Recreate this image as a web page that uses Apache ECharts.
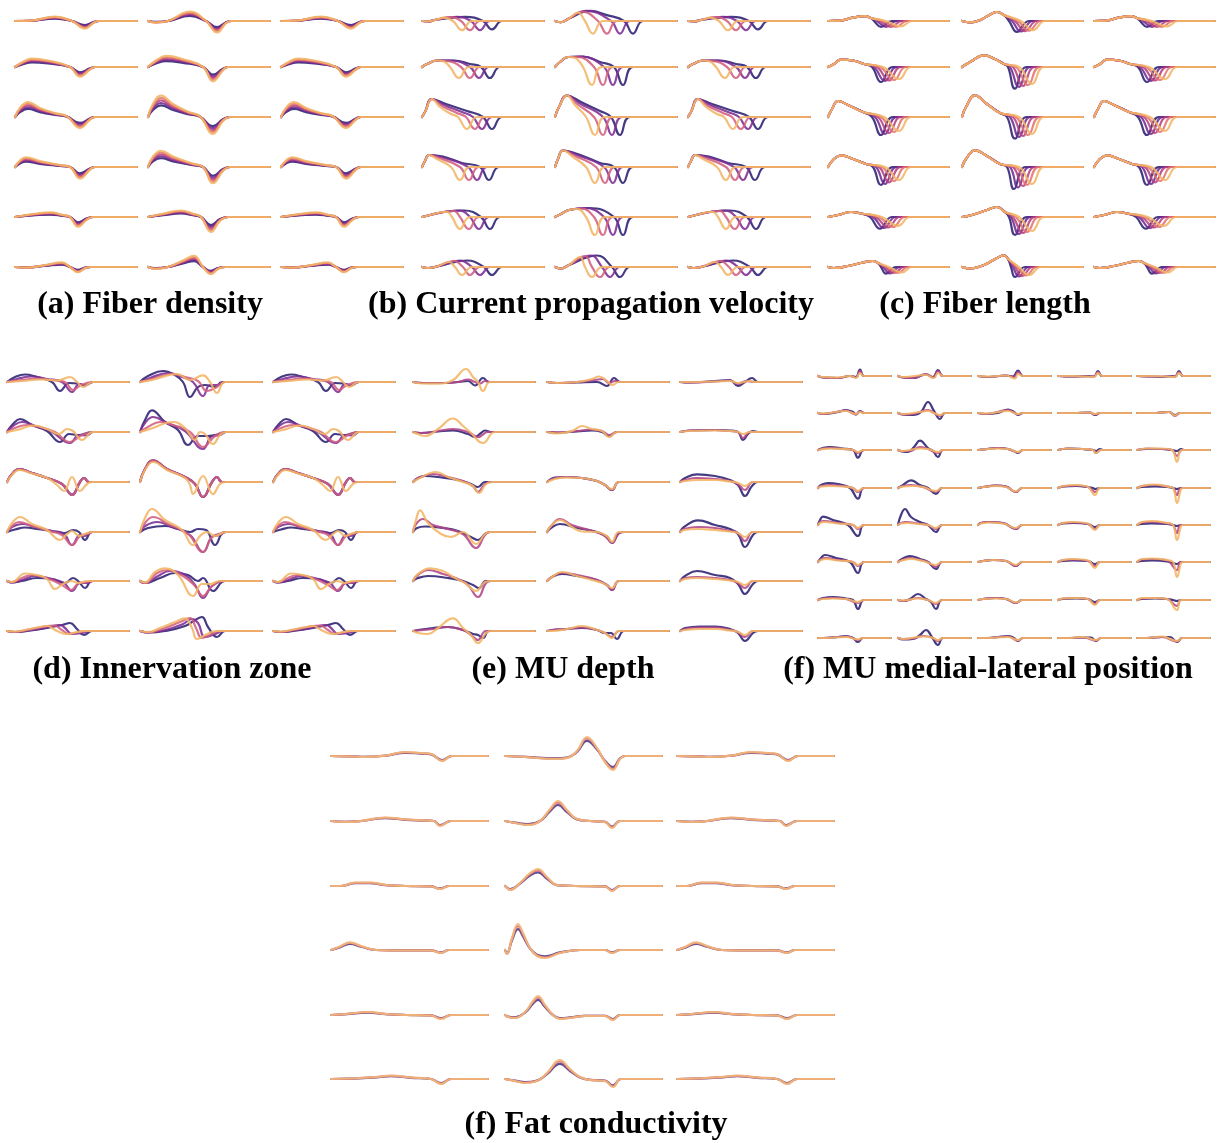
<!DOCTYPE html>
<html>
<head>
<meta charset="utf-8">
<script src="https://cdn.jsdelivr.net/npm/echarts/dist/echarts.min.js"></script>
<style>
html,body{margin:0;padding:0;background:#fff}
#chart{width:1221px;height:1143px}
</style>
</head>
<body>
<div id="chart"></div>
<script>
// Each waveform is a list of keypoints [t, amplitude, t, amplitude, ...];
// every trace starts and ends at rest (0). Outer columns share one trace set.

// (a) Fiber density: one shape per cell, scaled by density level
const densitySide = [
  [15,0.3, 40,4, 57,0, 70,-7, 79,-1.5, 84,0],
  [8,4, 17,6.5, 33,5, 55,0, 65,-7.5, 75,-2, 80,0],
  [5,7, 13,11.5, 25,7, 40,3, 52,0.5, 65,-8.5, 75,-2, 80,0],
  [5,5, 11,7.5, 25,4.5, 45,1.5, 55,0, 65,-9, 75,-2, 80,0],
  [20,2.5, 35,3.5, 48,1.5, 55,0, 63,-7.5, 72,-2, 78,0],
  [12,-0.5, 30,1.5, 47,3.5, 55,0, 63,-4, 70,-1, 76,0]
];
const densityMid = [
  [8,-1.5, 20,0, 42,8.5, 58,0, 69,-10.5, 78,-2, 83,0],
  [8,5, 18,8.5, 35,6, 55,0, 65,-11, 75,-2.5, 80,0],
  [5,10, 13,16.5, 25,10, 40,4, 52,0.5, 65,-13, 75,-3, 82,0],
  [5,8, 13,12.5, 25,8, 45,2.5, 55,0, 65,-12.5, 75,-3, 82,0],
  [15,2.5, 33,5, 45,2.5, 53,0, 63,-11.5, 72,-3, 80,0],
  [7,-1.5, 20,0, 35,5, 46,8.5, 55,0, 63,-5.5, 70,-1.5, 77,0]
];
const densityGain = [0.7, 0.85, 1, 1.15, 1.3];

// (b) Current propagation velocity: shared onset + one tail per velocity
const velocitySide = [
  [[6,-0.5, 14,1.5], [[43,5, 61,0, 70,-10, 80,0],[35,5, 49,0, 58,-11, 68,0],[28,4.5, 39,0, 48,-11, 58,0],[22,4, 31,0, 40,-11, 50,0]]],
  [[5,3, 15,6.5], [[32,6.5, 48,3, 59,0, 68,-11, 78,0],[28,6.5, 48,0, 57,-11, 67,0],[25,6, 39,0, 48,-11, 58,0],[22,5.5, 28,0, 37,-11, 47,0]]],
  [[3,5, 10,18], [[24,13, 45,6, 61,0, 70,-12, 80,0],[22,12, 40,5, 51,0, 60,-12, 70,0],[20,11, 35,4, 44,0, 53,-12, 63,0],[18,10, 29,3, 36,0, 45,-12, 55,0]]],
  [[3,6, 7,12], [[21,10.5, 40,4, 58,0, 67,-13, 77,0],[19,10, 46,0, 55,-13, 65,0],[17,9, 38,0, 47,-13, 57,0],[15,8, 29,0, 38,-13, 48,0]]],
  [[10,2.5, 22,5], [[42,6.5, 59,0, 68,-12, 78,0],[37,6.5, 48,0, 57,-12, 67,0],[32,6, 38,0, 47,-12, 57,0],[25,5, 30,0, 38,-12, 48,0]]],
  [[6,-1, 15,0.5], [[45,6.5, 62,0, 70,-8, 80,0],[38,6.5, 50,0, 58,-8, 68,0],[32,6, 41,0, 48,-8, 58,0],[27,5, 33,0, 40,-8, 50,0]]]
];
const velocityMid = [
  [[6,-1.5, 14,3], [[35,12, 52,7, 69,0, 78,-15, 88,0],[31,12, 56,0, 65,-15, 75,0],[27,11, 43,0, 52,-15, 62,0],[23,10, 30,0, 38,-15, 48,0]]],
  [[5,5, 13,10], [[28,10.5, 45,5, 59,0, 68,-18, 78,0],[25,10.5, 49,0, 58,-18, 68,0],[22,10, 39,0, 48,-18, 58,0],[20,9, 28,0, 37,-18, 47,0]]],
  [[4,10, 12,21.5], [[26,15, 45,6, 56,0, 65,-18, 75,0],[24,14, 48,0, 57,-18, 67,0],[22,13, 39,0, 48,-18, 58,0],[20,12, 31,0, 40,-18, 50,0]]],
  [[3,8, 8,16.5], [[24,12.5, 45,4, 59,0, 68,-16, 78,0],[22,12, 49,0, 58,-16, 68,0],[20,11, 41,0, 50,-16, 60,0],[18,10, 31,0, 40,-16, 50,0]]],
  [[6,3, 14,7], [[34,9, 59,0, 68,-18, 78,0],[30,9, 49,0, 58,-18, 68,0],[26,8.5, 39,0, 48,-18, 58,0],[22,8, 31,0, 40,-18, 50,0]]],
  [[6,-1.5, 14,2], [[42,11.5, 57,0, 65,-10, 75,0],[36,11.5, 47,0, 55,-10, 65,0],[30,11, 37,0, 45,-10, 55,0],[25,10, 30,0, 37,-10, 47,0]]]
];

// (c) Fiber length: shared hump + one terminal phase per length
const lengthSide = [
  [[12,0.5, 25,4, 37,5.7, 43,3.5], [[46,0, 53,-7, 64,0],[49,0, 58,-7, 69,0],[52,0, 63,-7, 74,0],[55,0, 68,-7, 79,0],[58,0, 73,-6.5, 84,0]]],
  [[6,3, 13,7.3, 25,6.5, 36,3], [[44,0, 53,-15, 65,0],[46,0, 57,-14, 69,0],[49,0, 61,-13.5, 73,0],[52,0, 66,-13, 78,0],[55,0, 71,-12, 83,0]]],
  [[4,8, 10,16, 20,12, 35,5], [[44,0, 53,-18, 65,0],[47,0, 57,-17, 69,0],[50,0, 61,-16, 73,0],[53,0, 66,-15, 78,0],[56,0, 71,-14, 83,0]]],
  [[5,7, 13,11.7, 25,8, 38,3], [[45,0, 53,-18, 65,0],[48,0, 57,-17, 69,0],[51,0, 61,-15.5, 73,0],[54,0, 66,-14, 78,0],[57,0, 71,-13, 83,0]]],
  [[10,2, 23,5, 33,3.5], [[42,0, 52,-11.7, 64,0],[45,0, 56,-11, 68,0],[48,0, 60,-10.5, 72,0],[51,0, 65,-10, 77,0],[54,0, 70,-9, 82,0]]],
  [[6,-1, 20,1, 35,4.5, 45,6, 50,4], [[53,0, 58,-6.7, 68,0],[55,0, 62,-6.5, 72,0],[57,0, 66,-6, 76,0],[59,0, 70,-6, 80,0],[61,0, 74,-5.5, 84,0]]]
];
const lengthMid = [
  [[8,-1.7, 18,1, 30,9, 35,10.7, 42,7], [[47,0, 55,-13, 67,0],[50,0, 59,-12.5, 71,0],[53,0, 63,-12, 75,0],[56,0, 67,-11.5, 79,0],[59,0, 71,-11, 83,0]]],
  [[8,5, 22,11.7, 33,8, 42,3], [[46,0, 53,-21.7, 65,0],[48,0, 57,-20, 69,0],[51,0, 61,-19, 73,0],[54,0, 66,-18, 78,0],[57,0, 70,-17, 82,0]]],
  [[4,10, 13,21.7, 25,13, 38,4], [[45,0, 53,-21.7, 65,0],[48,0, 57,-20, 69,0],[51,0, 61,-19, 73,0],[54,0, 66,-18, 78,0],[57,0, 70,-17, 82,0]]],
  [[4,8, 13,16.7, 25,11, 38,3], [[45,0, 52,-22, 64,0],[48,0, 56,-20.5, 68,0],[51,0, 61,-19, 73,0],[54,0, 65,-18, 77,0],[57,0, 70,-17, 82,0]]],
  [[10,2, 25,7, 35,10, 43,5], [[47,0, 53,-18, 65,0],[49,0, 57,-17, 69,0],[51,0, 61,-16, 73,0],[54,0, 65,-15, 77,0],[57,0, 70,-14, 82,0]]],
  [[8,-1.5, 22,2, 35,9, 42,11.7, 46,8], [[49,0, 53,-10, 63,0],[51,0, 57,-9.5, 67,0],[53,0, 60,-9, 71,0],[55,0, 64,-8.5, 75,0],[57,0, 67,-8, 79,0]]]
];

// (d) Innervation zone: four zone positions per cell
const zoneSide = [
  [[8,5, 18,7.5, 30,5, 45,0, 53,-9, 62,-1, 70,-1.5, 78,-3.5, 86,0],
   [10,3, 25,5.5, 40,3, 55,0, 65,-10, 72,-2, 78,-3, 86,0],
   [15,2, 30,3.5, 45,2, 58,0, 66,-8, 74,-3, 86,0],
   [15,1, 35,2.5, 50,1.5, 63,5, 70,0, 76,-5, 86,0]],
  [[6,8, 13,13, 25,7, 40,1, 53,-10, 62,-2, 72,-3, 80,-1, 86,0],
   [6,6, 15,10, 28,6, 45,0, 63,-11, 72,-3, 80,-3.5, 86,0],
   [8,4, 20,7, 33,5, 48,0, 63,-10, 75,-3, 86,0],
   [10,2, 27,6.5, 40,3, 52,-2, 60,3, 66,1, 75,-8, 86,0]],
  [[5,8, 12,13, 25,9, 40,4, 55,-2, 65,-13, 73,0, 77,4, 82,0],
   [5,8, 12,13, 25,9, 40,4, 55,-2, 65,-12.5, 73,0, 77,4, 82,0],
   [5,8, 12,13, 25,9, 40,4, 55,-2, 65,-13, 73,0, 77,4, 82,0],
   [5,7, 12,12, 25,8.5, 40,4, 50,-3, 57,-9, 65,5, 73,-9, 80,-2, 85,0]],
  [[8,2.5, 18,4.5, 30,3, 45,1, 58,-1, 66,2, 72,0, 78,-8, 85,0],
   [5,5, 15,8, 28,5, 45,1, 57,-2, 65,-13, 73,-3, 78,-4, 85,0],
   [5,6, 12,10, 25,6, 42,1, 55,-3, 65,-13, 73,-4, 80,-2, 86,0],
   [5,9, 13,15, 25,8, 40,2, 53,-8, 60,-2, 65,1, 72,-4, 80,-1, 86,0]],
  [[5,-1.5, 15,0, 30,3, 45,2, 58,-2, 66,3, 72,-1, 78,-7, 85,0],
   [5,-1.5, 15,1, 28,5, 45,2, 57,-2, 65,-10, 73,-2, 80,-2, 86,0],
   [5,-1, 15,3, 25,6, 42,2, 55,-4, 64,-9, 72,-2, 80,-1, 86,0],
   [5,-1, 18,7.5, 30,6, 40,2, 48,-8, 56,-3, 64,0, 72,-2, 80,0]],
  [[8,-1, 20,0, 40,3, 55,6, 63,8, 70,2, 77,-4, 85,0],
   [8,-1, 20,0.5, 38,3, 53,6, 58,3, 65,-3, 75,-2, 83,0],
   [8,-1, 20,1, 35,4, 47,5.5, 55,1, 62,-3, 72,-1, 80,0],
   [8,-0.5, 20,1.5, 33,4, 40,5, 50,0, 60,-3, 70,-1, 78,0]]
];
const zoneMid = [
  [[8,6, 23,11, 35,7, 43,0, 50,-15, 58,-5, 65,-3, 75,-5, 82,0],
   [10,4, 28,9, 42,5, 53,0, 63,-14, 70,-3, 78,-3, 85,0],
   [12,3, 32,8, 45,5, 58,1, 67,-9, 75,-6, 85,0],
   [12,2, 37,8, 50,2, 63,6.7, 70,0, 77,-11, 85,0]],
  [[5,12, 12,21.7, 25,10, 38,2, 48,-13, 58,-4, 68,-4, 80,-2, 86,0],
   [5,9, 13,15, 27,9, 45,1, 63,-17, 72,-4, 80,-3, 86,0],
   [8,5, 20,10, 33,7, 50,0, 63,-15, 75,-4, 86,0],
   [10,3, 33,10, 45,4, 55,-8, 60,0, 65,-2, 73,-12, 80,-3, 86,0]],
  [[5,13, 13,21.7, 27,13, 45,5, 55,-2, 63,-15, 72,0, 77,5, 82,0],
   [5,13, 13,21.5, 27,13, 45,5, 55,-2, 63,-15, 72,0, 77,5, 82,0],
   [5,13, 13,21.7, 27,13, 45,5, 55,-2, 63,-15, 72,0, 77,5, 82,0],
   [5,12, 13,20, 27,12, 45,4, 50,-3, 53,-12, 63,6, 73,-12, 80,-2, 86,0]],
  [[8,4, 25,6, 38,3, 50,0, 58,3, 66,2, 75,-13, 85,0],
   [5,6, 17,10, 30,6, 50,-3, 63,-20, 72,-5, 80,-3, 86,0],
   [5,9, 13,15, 28,8, 48,-2, 63,-20, 72,-5, 82,-1, 86,0],
   [5,14, 12,23, 25,12, 42,2, 53,-13, 60,-4, 67,0, 75,-4, 86,0]],
  [[5,-2, 20,3, 35,8, 48,6, 58,0, 63,3, 73,-10, 85,0],
   [5,-2, 18,5, 30,10, 45,6, 55,-4, 63,-17, 72,-5, 85,0],
   [5,-2, 17,8, 28,11, 43,5, 55,-5, 63,-15, 72,-5, 85,0],
   [5,-1.5, 15,9, 25,12.7, 38,6, 53,-15, 62,-3, 70,-3, 80,0]],
  [[8,-1.5, 25,0, 45,5, 55,11, 62,14, 68,4, 77,-6, 85,0],
   [8,-1.5, 25,1, 43,7, 52,12, 58,8, 65,-6, 75,-3, 83,0],
   [8,-1.5, 22,2, 40,9, 50,13, 56,3, 62,-7, 72,-3, 80,0],
   [8,-1, 20,3, 35,9, 45,12.7, 52,3, 57,-8, 67,-3, 76,0]]
];

// (e) MU depth: rows x columns x three depths
const depthCells = [
  [[[10,-1, 30,-1, 45,0, 55,1, 62,-3.5, 70,4, 76,0],[10,-1, 30,-1, 45,0, 55,2.5, 62,0, 67,-1.5, 72,1, 77,0],[8,-1.5, 25,-1.7, 40,2, 53,13, 60,5, 65,0, 70,-9, 77,0]],
   [[10,-1, 30,-0.5, 50,0, 60,-4, 67,4, 73,0],[10,-1, 30,0, 48,2, 56,3, 62,-1, 68,1, 73,0],[10,-1, 30,0, 45,3, 52,5.5, 60,1, 65,-3, 72,0]],
   [[10,-0.5, 35,1, 50,2, 58,-4, 65,0, 72,4, 78,0],[10,-0.5, 35,0.5, 50,1.5, 58,-2, 66,1, 75,0],[10,0, 35,0.5, 50,1, 58,-1, 70,1, 75,0]]],
  [[[8,-1, 25,0.5, 40,1.5, 55,-2, 62,-5, 68,-1, 72,1.5, 78,0],[8,-1, 25,1, 40,3, 55,0, 65,-5, 75,0],[5,-2, 12,-4, 25,3, 40,13.5, 50,6, 57,0, 70,-11, 82,0]],
   [[10,-0.5, 30,0.5, 45,1.5, 55,0, 62,-4, 70,0],[10,-0.5, 30,1, 45,2.5, 55,1, 62,-3, 70,0],[10,-1.5, 25,1, 35,6, 45,3, 55,1, 62,-5, 70,0]],
   [[10,1.5, 35,2, 50,1.5, 58,0, 63,-8, 68,-2, 73,1, 78,0],[10,1.5, 35,2, 50,1, 58,0, 63,-6, 70,0],[10,1, 35,1.5, 50,1, 58,0, 63,-2, 70,0]]],
  [[[5,4, 12,6, 25,5, 45,2, 58,-2, 65,-5, 72,0],[5,4, 20,8, 35,5, 50,1, 60,-4, 65,-10, 72,-2, 78,0],[5,3, 23,10, 35,5, 50,0, 60,-4, 66,-11, 73,-2, 80,0]],
   [[8,4.5, 18,5, 35,4, 50,1, 58,-3, 65,-8, 72,0],[8,4, 20,5, 35,4, 50,1, 58,-3, 65,-8, 72,0],[8,3, 20,4.5, 35,4, 50,1, 58,-3, 65,-7, 72,0]],
   [[5,4, 17,7.7, 35,6, 50,2, 58,-3, 65,-14, 72,-4, 78,0],[5,2, 17,4, 35,3, 50,1, 58,-2, 65,-8, 73,0],[5,1, 17,2, 35,2, 50,0.5, 58,-1, 65,-4, 73,0]]],
  [[[4,4, 12,5.5, 30,4, 45,1, 58,-5, 65,-8, 72,-2, 77,0],[3,8, 10,13, 20,7, 35,3, 50,-2, 63,-16, 72,-3, 77,0],[3,12, 7,21.7, 15,9, 28,-2, 38,-5, 50,0, 63,-12, 72,-2, 77,0]],
   [[4,4, 13,8, 30,4, 50,0, 60,-5, 65,-11, 72,-1, 77,0],[4,6, 13,13, 25,7, 45,1, 58,-4, 65,-11, 72,-1, 77,0],[4,6, 13,12, 25,5, 35,0.5, 50,0, 60,-4, 65,-10, 72,0]],
   [[4,5, 18,11.7, 35,7, 50,3, 58,-2, 65,-15, 73,-3, 78,0],[4,3, 18,5, 35,4, 50,1, 58,-1, 65,-9, 73,0],[4,2, 18,3, 35,2, 50,0.5, 58,-1, 65,-5, 73,0]]],
  [[[5,3, 15,5, 35,3, 50,0, 60,-4, 66,-7, 73,0],[5,6, 15,11, 30,7, 45,2, 55,-4, 65,-16, 73,-2, 78,0],[5,7, 17,12.7, 30,10, 40,4, 52,-2, 63,-10, 72,-1, 78,0]],
   [[5,4, 15,7, 30,5, 50,1, 60,-4, 65,-9, 72,0],[5,4, 15,8, 30,6, 50,1, 60,-4, 65,-9, 72,0],[5,4, 15,9, 30,5, 45,1, 58,-3, 65,-7, 72,0]],
   [[5,5, 17,10, 35,6, 50,3, 58,-3, 65,-13, 73,-3, 78,0],[5,3, 17,4, 35,3, 50,1, 58,-2, 65,-7, 73,0],[5,2, 17,3, 35,2, 50,0.5, 58,-1, 65,-4, 73,0]]],
  [[[5,1, 20,3, 35,4, 50,1, 60,-3, 65,-4, 70,-7, 76,0],[5,0.5, 20,2, 35,4, 50,1, 58,-4, 65,-9, 73,0],[5,-2, 15,-3, 25,3, 40,12.7, 50,3, 58,-4, 65,-12, 73,-2, 78,0]],
   [[5,1, 20,2, 35,3, 50,1, 58,-2, 64,-2, 70,-8, 77,0],[5,1, 20,2, 35,3.5, 50,1, 58,-2, 65,-6, 72,0],[5,0, 20,2, 35,5, 50,1, 58,-2, 65,-7, 72,0]],
   [[5,3, 20,4.5, 35,4.5, 50,2, 58,-2, 65,-10, 73,-2, 78,0],[5,2, 20,3.5, 35,3.5, 50,1, 58,-1, 65,-6, 73,0],[5,1, 20,2, 35,2, 50,0.5, 58,-1, 65,-4, 73,0]]]
];

// (f) MU medial-lateral position: 8 rows x 5 columns x three positions
const mlCells = [
  [[[5,-1.5, 20,-2, 32,0, 38,-1, 42,6.5, 46,0],[5,-1.5, 20,-2, 32,0, 38,-1.5, 42,5, 46,0],[5,-1, 20,-1.5, 32,0, 38,-2, 42,3, 46,0]],
   [[5,-1.5, 15,-2, 28,1.5, 35,-1, 40,6, 45,0],[5,-1.5, 15,-2, 28,2, 35,-1.5, 40,5, 45,0],[5,-1, 28,1, 36,-2, 40,3, 45,0]],
   [[10,-1, 28,0.5, 35,-0.5, 40,5.5, 45,0],[10,-1, 28,0.5, 36,-1, 40,4, 45,0],[10,-0.5, 28,0.5, 37,-2.5, 40,2, 45,0]],
   [[15,-0.5, 30,0, 36,-0.5, 40,5, 44,0],[15,-0.5, 36,-0.5, 40,4, 44,0],[15,0, 36,-1, 40,3, 44,0]],
   [[15,-0.5, 25,-1, 35,0, 38,-0.5, 42,5, 46,0],[15,-0.5, 38,-0.5, 42,4, 46,0],[15,0, 38,-1, 42,3, 46,0]]],
  [[[5,-1, 20,1, 28,3, 35,1, 38,-1.5, 42,2, 46,0],[5,-1, 28,2.5, 38,-1.5, 42,1.5, 46,0],[5,-0.5, 28,2, 38,-1, 42,1, 46,0]],
   [[5,-1.5, 15,-2, 23,1, 30,11, 36,2, 42,-6, 47,0],[5,-1.5, 15,-1, 25,2, 30,3, 36,0, 42,-3, 47,0],[5,-1, 25,1.5, 30,2, 36,0, 42,-2, 47,0]],
   [[8,-1, 20,0, 30,3.5, 36,1, 40,-2, 45,0],[8,-1, 30,3, 40,-1.5, 45,0],[8,-0.5, 30,2, 40,-1, 45,0]],
   [[15,0, 32,0.5, 37,-2, 42,0],[15,0, 32,0.5, 37,-1.5, 42,0],[15,0, 32,0.5, 37,-1, 42,0]],
   [[15,0, 32,1, 38,-2, 43,0],[15,0, 32,1, 38,-3, 43,0],[15,0, 32,1, 38,-2.5, 43,0]]],
  [[[5,2, 12,3, 25,1.5, 35,0, 40,-7.7, 46,0],[5,1.5, 12,2, 25,1, 35,0, 40,-3, 46,0],[5,1, 12,1.5, 25,1, 35,0, 40,-2, 46,0]],
   [[4,-1.5, 10,-2, 16,3, 22,9.3, 30,2, 35,-1, 40,-7, 45,0],[4,-1, 12,-1, 22,3, 30,1, 40,-3, 45,0],[4,-1, 22,1.5, 30,1, 40,-2, 45,0]],
   [[5,0.5, 20,2, 30,1, 36,-1, 40,-3, 45,0],[5,0.5, 20,2, 30,1, 40,-2.5, 45,0],[5,0.5, 20,1.5, 30,1, 40,-2, 45,0]],
   [[10,1.5, 25,1, 35,0, 38,-1, 42,1, 45,0],[10,1.5, 25,1, 35,0, 38,-3, 43,0],[10,1.5, 25,1, 35,0, 38,-3, 43,0]],
   [[10,1, 25,1, 35,0, 40,-1, 44,1, 47,0],[10,1.5, 25,1, 35,0, 40,-6, 45,0],[10,1.5, 25,1.5, 35,0, 40,-11.7, 45,0]]],
  [[[3,3, 10,5, 20,4, 32,0, 40,-10.7, 46,0],[3,2, 12,3, 25,2, 35,0, 40,-4, 46,0],[3,1.5, 12,2, 25,1.5, 35,0, 40,-3, 46,0]],
   [[5,3, 13,7.7, 22,3, 30,0, 38,-6, 44,0],[5,2, 13,3, 25,1, 38,-4, 44,0],[5,1.5, 15,2, 25,1, 38,-3, 44,0]],
   [[5,1, 18,2.5, 28,1.5, 38,-4, 44,0],[5,1, 18,2.5, 28,1.5, 38,-4, 44,0],[5,1, 18,2, 28,1, 38,-3.5, 44,0]],
   [[5,1.5, 18,2, 30,1, 35,0, 37,-1, 42,0],[5,1.5, 18,2.5, 30,1, 37,-4, 42,0],[5,2, 18,3, 30,1, 37,-7, 42,0]],
   [[5,1, 18,1.5, 30,1, 36,0, 40,-1, 44,0],[5,2, 18,3, 30,1.5, 36,0, 40,-7, 44,0],[5,2, 18,3.5, 30,1.5, 36,0, 40,-15, 44,-1, 46,0]]],
  [[[2,5, 5,8.3, 15,5, 30,0, 40,-11, 46,0],[2,3, 6,4, 20,2, 35,0, 40,-4, 46,0],[2,2, 6,3, 20,1.5, 35,0, 40,-3, 46,0]],
   [[3,10, 7,16, 13,8, 22,3, 30,0, 38,-7, 44,0],[3,2, 8,3, 20,1.5, 30,0, 38,-4, 44,0],[3,1.5, 10,2, 20,1, 30,0, 38,-3, 44,0]],
   [[3,2, 10,3, 25,2, 38,-4, 44,0],[3,2, 10,3, 25,2, 38,-4, 44,0],[3,1.5, 10,2.5, 25,1.5, 38,-3, 44,0]],
   [[5,1.5, 15,2, 30,1, 37,-2, 42,0],[5,2, 15,2.5, 30,1, 37,-4, 42,0],[5,2, 15,3, 30,1.5, 37,-5, 42,0]],
   [[5,1, 15,1.5, 30,1, 36,0, 40,-1, 44,0],[5,2.5, 15,3, 30,1.5, 36,0, 40,-8, 44,0],[5,3, 15,4, 30,2, 36,0, 40,-15, 44,-1, 46,0]]],
  [[[3,4, 7,7, 18,4, 32,0, 40,-11, 46,0],[3,3, 8,4, 20,2, 35,0, 40,-4, 46,0],[3,2, 8,3, 20,1.5, 35,0, 40,-3, 46,0]],
   [[4,3, 12,6, 22,3, 30,0, 38,-7, 44,0],[4,2, 12,4, 22,2, 30,0, 38,-5, 44,0],[4,1.5, 12,3, 25,1, 38,-3, 44,0]],
   [[5,1, 15,2, 28,1, 38,-4, 44,0],[5,1, 15,2, 28,1, 38,-4, 44,0],[5,1, 15,2, 28,1, 38,-3, 44,0]],
   [[5,1, 15,1.5, 30,1, 37,-2, 42,0],[5,2, 15,2.5, 30,1, 37,-4, 42,0],[5,2, 15,3, 30,1.5, 37,-6, 42,0]],
   [[5,1, 15,1.5, 30,0.5, 40,-2, 44,0],[5,2.5, 15,3, 30,1.5, 40,-8, 44,0],[5,3, 15,3.5, 30,2, 36,0, 40,-15, 44,-1, 46,0]]],
  [[[5,2, 15,3, 28,1.5, 35,0, 40,-9, 46,0],[5,1.5, 15,2, 28,1, 40,-3, 46,0],[5,1, 15,1.5, 28,1, 40,-2, 46,0]],
   [[5,-1, 12,1, 20,6, 28,1, 33,-2, 38,-9, 44,0],[5,-1, 20,2, 30,0, 38,-4, 44,0],[5,-0.5, 20,1.5, 30,0, 38,-3, 44,0]],
   [[5,1, 18,2, 28,1, 38,-3, 44,0],[5,1, 18,2, 28,1, 38,-3, 44,0],[5,1, 18,1.5, 28,1, 38,-2.5, 44,0]],
   [[5,1, 18,1.5, 30,1, 37,-2, 42,0],[5,1.5, 18,2, 30,1, 37,-4, 42,0],[5,1.5, 18,2, 30,1, 37,-5, 42,0]],
   [[5,1, 18,1.5, 30,1, 36,0, 40,-1, 44,0],[5,1.5, 18,2, 30,1, 40,-6, 44,0],[5,2, 18,2, 30,1, 40,-10, 44,0]]],
  [[[5,0, 20,1, 28,2, 35,0, 40,-4, 45,0],[5,0, 28,1.5, 35,0, 40,-2, 45,0],[5,0, 28,1, 40,-1.5, 45,0]],
   [[5,-1.5, 15,-1, 22,3, 28,8, 34,1, 40,-7, 45,0],[5,-1, 15,-0.5, 25,2, 34,0.5, 40,-3, 45,0],[5,-1, 25,1.5, 34,0.5, 40,-2, 45,0]],
   [[8,0, 20,1, 30,2, 36,0, 40,-3, 45,0],[8,0, 30,1.5, 40,-2.5, 45,0],[8,0, 30,1, 40,-2, 45,0]],
   [[10,0, 25,0.5, 33,0.5, 38,-3, 43,0],[10,0, 25,0.5, 38,-2.5, 43,0],[10,0, 25,1, 38,-2, 43,0]],
   [[10,0, 25,1, 33,1, 40,-4, 45,0],[10,0, 25,1, 40,-3.5, 45,0],[10,0, 25,1.5, 40,-3, 45,0]]]
];

// (g) Fat conductivity: one shape per cell, scaled by conductivity level
const fatSide = [
  [20,-0.5, 34,-1, 55,0.5, 74,4, 90,3, 100,2, 111,-5, 121,0],
  [15,-1, 30,0, 54,3.5, 75,1.5, 95,0.5, 103,0, 109,-5, 120,0],
  [10,0, 24,3.5, 39,3.5, 55,1, 75,0, 100,-0.5, 109,-3, 118,0],
  [8,3, 19,7.7, 30,4, 45,0, 60,-0.5, 100,-0.5, 110,-3, 118,0],
  [15,1, 37,3, 55,1, 75,0, 100,-0.5, 110,-4, 120,0],
  [20,0.5, 45,2, 60,3.5, 80,1.5, 100,0, 110,-5, 120,0]
];
const fatMid = [
  [20,-1, 50,-3, 62,-2, 72,5, 82,19, 92,8, 100,-6, 108,-14, 115,-3, 120,0],
  [10,-2, 23,-4, 35,0, 45,12, 53,20, 62,11, 72,2, 85,0, 100,-1, 107,-7, 115,0],
  [2,-2, 5,-4, 15,3, 25,13, 33,17, 42,9, 52,1, 70,0, 100,-0.5, 107,-5, 115,0],
  [2,-4, 7,12, 13,26, 18,17, 25,2, 32,-6, 40,-8, 55,-3, 75,0, 100,0, 107,-3, 115,0],
  [3,-2, 10,-3, 20,3, 28,14, 33,19, 40,10, 48,0, 55,-4, 65,-3, 80,-1, 100,-1, 108,-5, 115,0],
  [10,-2, 20,-4, 32,-2, 42,6, 55,19, 65,10, 75,2, 85,-1, 100,-2, 108,-8, 116,0]
];
const fatGain = [0.8, 0.92, 1];

const titles = [
  '(a) Fiber density', '(b) Current propagation velocity', '(c) Fiber length',
  '(d) Innervation zone', '(e) MU depth', '(f) MU medial-lateral position',
  '(f) Fat conductivity'
];

// colour ramps, dark (first) to light (last, drawn on top)
const ramp5 = ['#2b2072', '#6f2a92', '#b6407f', '#e2746f', '#f2b565'];
const ramp4 = ['#2b2072', '#7d2e94', '#d2607f', '#f2b565'];
const ramp3 = ['#2b2072', '#b24589', '#f2b565'];
const fatRamp = ['#4a3585', '#d9707a', '#f2b878'];

// ---------- layout ----------
const rowsTop = [17, 67, 117, 167, 217, 267];
const rowsMid = [382, 432, 482, 532, 581, 631];
const panels = {
  a: {cols: [15, 148, 281], w: 122, rows: rowsTop, half: 25},
  b: {cols: [422, 555, 688], w: 122, rows: rowsTop, half: 25},
  c: {cols: [828, 962, 1094], w: 121, rows: rowsTop, half: 25},
  d: {cols: [7, 140, 273], w: 122, rows: rowsMid, half: 25},
  e: {cols: [413, 547, 680], w: 122, rows: rowsMid, half: 25},
  f: {cols: [818, 898, 978, 1058, 1137], w: 73, rows: [376, 413, 450, 488, 525, 562, 600, 638], half: 18.5},
  g: {cols: [331, 505, 677], w: 157, rows: [756, 821, 886, 950, 1015, 1079], half: 32}
};
const titlePos = [[150, 305], [591, 305], [985, 305], [172, 670], [563, 670], [988, 670], [596, 1125]];

const grids = [], xAxes = [], yAxes = [], series = [];

function toPairs(pts, end) {
  const d = [[0, 0]];
  for (let i = 0; i < pts.length; i += 2) d.push([pts[i], pts[i + 1]]);
  d.push([end, 0]);
  return d;
}
function scaled(pts, g) {
  return pts.map((v, j) => (j % 2 ? v * g : v));
}
function addCell(p, col, row, curves, colors) {
  const L = panels[p];
  const i = grids.length;
  grids.push({left: L.cols[col], top: L.rows[row] - L.half, width: L.w, height: L.half * 2});
  xAxes.push({gridIndex: i, type: 'value', min: 0, max: L.w, show: false});
  yAxes.push({gridIndex: i, type: 'value', min: -L.half, max: L.half, show: false});
  curves.forEach((pts, k) => {
    series.push({
      type: 'line', xAxisIndex: i, yAxisIndex: i, data: toPairs(pts, L.w),
      smooth: 0.45, symbol: 'none', clip: false, silent: true,
      lineStyle: {width: 2.2, color: colors[k], opacity: 0.88, cap: 'round', join: 'round'}
    });
  });
}

const side3 = [0, 1, 0];
for (let r = 0; r < 6; r++) {
  side3.forEach((src, c) => {
    const dens = src ? densityMid[r] : densitySide[r];
    addCell('a', c, r, densityGain.map(g => scaled(dens, g)), ramp5);
    const vel = src ? velocityMid[r] : velocitySide[r];
    addCell('b', c, r, vel[1].map(t => vel[0].concat(t)), ramp4);
    const len = src ? lengthMid[r] : lengthSide[r];
    addCell('c', c, r, len[1].map(t => len[0].concat(t)), ramp5);
    addCell('d', c, r, src ? zoneMid[r] : zoneSide[r], ramp4);
    addCell('e', c, r, depthCells[r][c], ramp3);
    const fat = src ? fatMid[r] : fatSide[r];
    addCell('g', c, r, fatGain.map(g => scaled(fat, g)), fatRamp);
  });
}
mlCells.forEach((row, r) => row.forEach((cell, c) => addCell('f', c, r, cell, ramp3)));

const graphic = titles.map((t, i) => ({
  type: 'text', x: titlePos[i][0], y: titlePos[i][1], silent: true,
  style: {
    text: t, fill: '#000', font: 'bold 32px "Liberation Serif", "Times New Roman", serif',
    align: 'center', verticalAlign: 'middle', textAlign: 'center', textVerticalAlign: 'middle'
  }
}));

const chart = echarts.init(document.getElementById('chart'), null, {renderer: 'canvas'});
chart.setOption({
  backgroundColor: '#fff',
  animation: false,
  grid: grids, xAxis: xAxes, yAxis: yAxes,
  series: series,
  graphic: graphic
});
</script>
</body>
</html>
